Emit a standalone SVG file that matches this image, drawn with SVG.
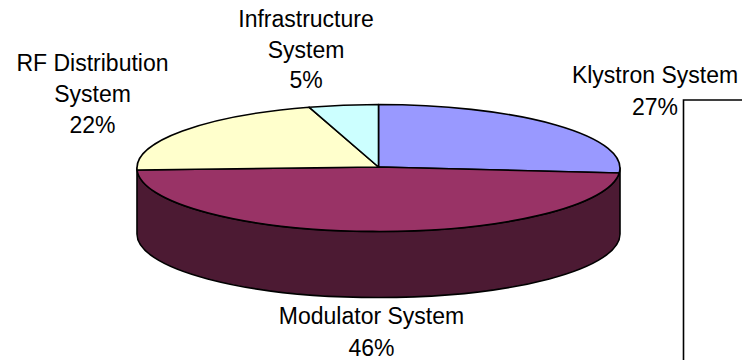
<svg xmlns="http://www.w3.org/2000/svg" width="742" height="360" viewBox="0 0 742 360">
<style>
  .lbl { font-family: "Liberation Sans", Arial, sans-serif; font-size: 23px; fill: #000; text-anchor: middle; }
  .edge { stroke: #000; stroke-width: 1.6; stroke-linejoin: round; }
</style>
<rect x="0" y="0" width="742" height="360" fill="#fff"/>
<g id="pie-side">
  <path class="edge" fill="#4C1A33" d="M 137,168 A 241.5 63.5 0 0 0 620,168 L 620,234 A 241.5 63.5 0 0 1 137,234 Z"/>
</g>
<g id="klystron">
  <path class="edge" fill="#9999FF" d="M 378.5,167 L 378.5,104.5 A 241.5 63.5 0 0 1 619.2,173 Z"/>
  <text class="lbl" x="655" y="83">Klystron System</text>
  <text class="lbl" x="655" y="115">27%</text>
</g>
<g id="modulator">
  <path class="edge" fill="#993366" d="M 378.5,167 L 619.2,173 A 241.5 63.5 0 0 1 137.1,170 Z"/>
  <text class="lbl" x="371.5" y="324">Modulator System</text>
  <text class="lbl" x="371.5" y="356">46%</text>
</g>
<g id="rf-distribution">
  <path class="edge" fill="#FFFFCC" d="M 378.5,167 L 137.1,170 A 241.5 63.5 0 0 1 309,107.2 Z"/>
  <text class="lbl" x="92.5" y="71">RF Distribution</text>
  <text class="lbl" x="92.5" y="102">System</text>
  <text class="lbl" x="92.5" y="133">22%</text>
</g>
<g id="infrastructure">
  <path class="edge" fill="#CCFFFF" d="M 378.5,167 L 309,107.2 A 241.5 63.5 0 0 1 378.5,104.5 Z"/>
  <text class="lbl" x="306" y="27">Infrastructure</text>
  <text class="lbl" x="306" y="57.5">System</text>
  <text class="lbl" x="306" y="87.5">5%</text>
</g>
<g id="connectors">
  <path d="M 683.5,360 L 683.5,100 L 742,100" fill="none" stroke="#000" stroke-width="1.6"/>
</g>
</svg>
